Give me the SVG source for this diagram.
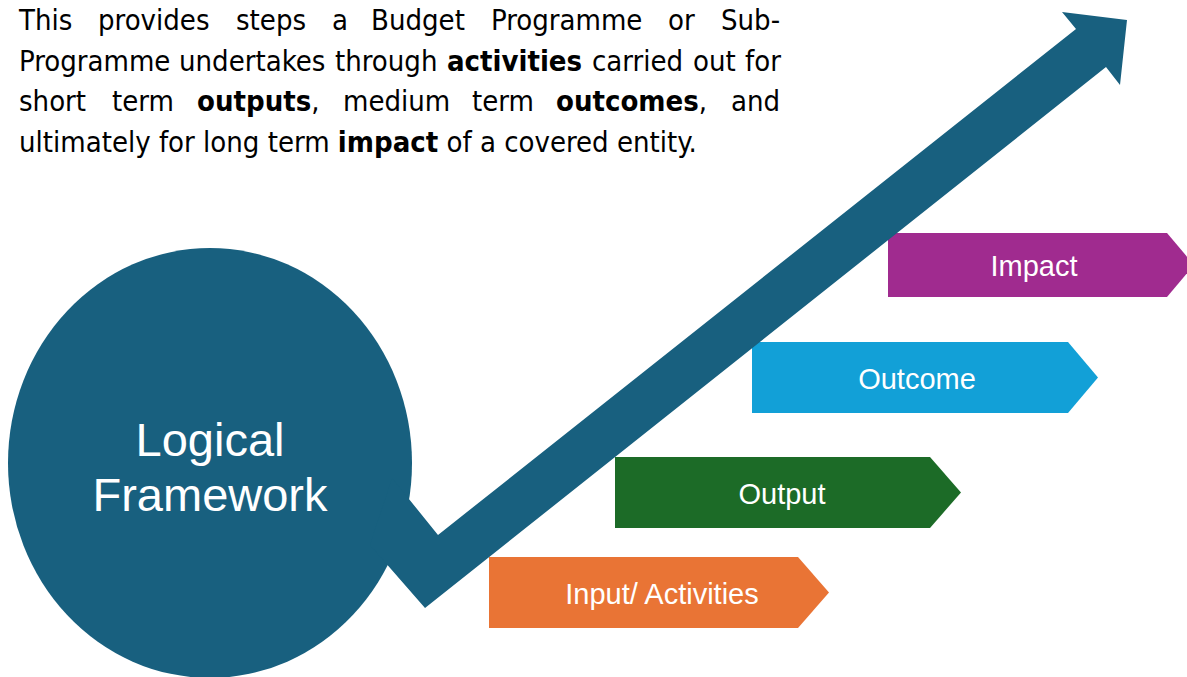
<svg xmlns="http://www.w3.org/2000/svg" width="1187" height="677" viewBox="0 0 1187 677">
<style>
.para{font-family:"DejaVu Sans Condensed","DejaVu Sans",sans-serif;font-stretch:condensed;font-size:29px;fill:#000}
.b{font-weight:bold}
.lbl{font-family:"Liberation Sans",Arial,sans-serif;font-size:29px;fill:#fff;text-anchor:middle}
.big{font-family:"Liberation Sans",Arial,sans-serif;font-size:47px;fill:#fff;text-anchor:middle}
.blue{fill:#18607F}
</style>
<rect width="1187" height="677" fill="#fff"/>
<g id="description">
<text class="para" y="30"><tspan x="19">This</tspan><tspan x="98">provides</tspan><tspan x="236">steps</tspan><tspan x="332">a</tspan><tspan x="371">Budget</tspan><tspan x="491">Programme</tspan><tspan x="668">or</tspan><tspan x="721">Sub-</tspan></text>
<text class="para" y="71"><tspan x="19">Programme</tspan><tspan x="179">undertakes</tspan><tspan x="335">through</tspan><tspan x="447" class="b">activities</tspan><tspan x="592">carried</tspan><tspan x="693">out</tspan><tspan x="745">for</tspan></text>
<text class="para" y="111"><tspan x="19">short</tspan><tspan x="112">term</tspan><tspan x="197" class="b">outputs</tspan><tspan>,</tspan><tspan x="343">medium</tspan><tspan x="472">term</tspan><tspan x="556" class="b">outcomes</tspan><tspan>,</tspan><tspan x="731">and</tspan></text>
<text class="para" x="19" y="152">ultimately for long term <tspan class="b">impact</tspan> of a covered entity.</text>
</g>
<g id="logical-framework">
<ellipse class="blue" cx="210" cy="463" rx="202" ry="215"/>
<text class="big" x="210" y="456">Logical</text>
<text class="big" x="210" y="511">Framework</text>
</g>
<g id="input-activities">
<polygon fill="#E97435" points="489,557 798,557 829,592.5 798,628 489,628"/>
<text class="lbl" x="662" y="604">Input/ Activities</text>
</g>
<g id="output">
<polygon fill="#1C6B27" points="615,457 930,457 961,492.5 930,528 615,528"/>
<text class="lbl" x="782" y="504">Output</text>
</g>
<g id="outcome">
<polygon fill="#12A0D7" points="752,342 1068,342 1098,377.5 1068,413 752,413"/>
<text class="lbl" x="917" y="389">Outcome</text>
</g>
<g id="impact">
<polygon fill="#A02B8F" points="888,233 1167,233 1194,265 1167,297 888,297"/>
<text class="lbl" x="1034" y="276">Impact</text>
</g>
<g id="connectors">
<polygon class="blue" points="392,478 438,535 1076,29 1062,12 1127,20 1120,85 1106,67 425,608 370,545"/>
</g>
</svg>
